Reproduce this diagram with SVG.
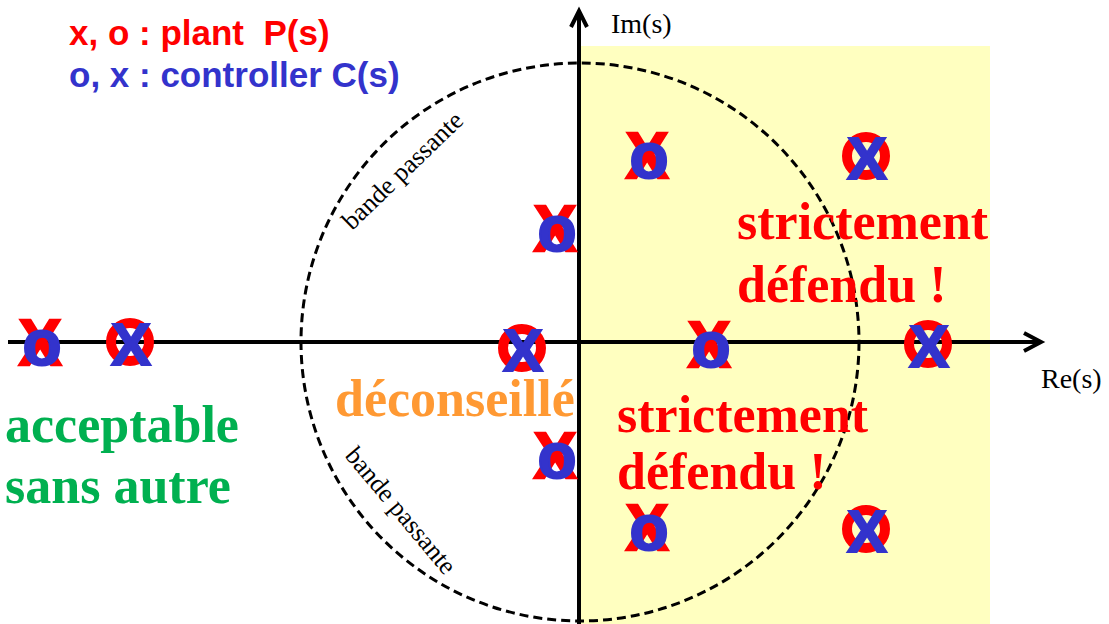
<svg xmlns="http://www.w3.org/2000/svg" width="1109" height="624" viewBox="0 0 1109 624">
<style>
.ax{stroke:#000;stroke-width:4;fill:none}
.circ{stroke:#000;stroke-width:3;fill:none;stroke-dasharray:9 5}
.rx{font-family:"Liberation Sans",Arial,sans-serif;font-weight:bold;font-size:64px;fill:#FF0000;stroke:#FF0000;stroke-width:2.5;text-anchor:middle}
.bo{font-family:"Liberation Sans",Arial,sans-serif;font-weight:bold;font-size:64px;fill:#3333CC;stroke:#3333CC;stroke-width:2;text-anchor:middle}
.bx{font-family:"Liberation Sans",Arial,sans-serif;font-weight:bold;font-size:60px;fill:#3333CC;stroke:#3333CC;stroke-width:2;text-anchor:middle}
.ro{fill:none;stroke:#FF0000;stroke-width:10}
.leg{font-family:"Liberation Sans",Arial,sans-serif;font-weight:bold;font-size:35px}
.big{font-family:"Liberation Serif","Times New Roman",serif;font-weight:bold;font-size:52px}
.lab{font-family:"Liberation Serif","Times New Roman",serif;font-size:28px;fill:#000}
.bp{font-family:"Liberation Serif","Times New Roman",serif;font-size:26px;fill:#000}
</style>
<rect width="1109" height="624" fill="#FFFFFF"/>
<rect id="zone-instable" x="579" y="46" width="411" height="578" fill="#FFFFC0"/>
<g id="connectors">
<circle class="circ" cx="580" cy="342" r="279"/>
<line class="ax" x1="8" y1="342" x2="1040" y2="342"/>
<polyline class="ax" points="1024,333 1041,342 1024,351"/>
<line class="ax" x1="579" y1="624" x2="579" y2="12"/>
<polyline class="ax" points="571,27 579,11 587,27"/>
</g>
<g id="legend">
<text class="leg" x="69" y="45" fill="#FF0000" xml:space="preserve">x, o : plant  P(s)</text>
<text class="leg" x="69" y="87" fill="#3333CC">o, x : controller C(s)</text>
</g>
<g id="axis-labels">
<text class="lab" x="611" y="33">Im(s)</text>
<text class="lab" x="1041" y="388">Re(s)</text>
</g>
<g id="bande-labels">
<text class="bp" transform="translate(352,231) rotate(-44)">bande passante</text>
<text class="bp" transform="translate(344,456) rotate(50)">bande passante</text>
</g>
<g id="region-labels">
<text class="big" x="737" y="239" fill="#FF0000">strictement</text>
<text class="big" x="737" y="302" fill="#FF0000">défendu !</text>
<text class="big" x="617" y="432" fill="#FF0000">strictement</text>
<text class="big" x="617" y="489" fill="#FF0000">défendu !</text>
<text class="big" x="335" y="416" fill="#FF9933">déconseillé</text>
<text class="big" x="5" y="442" fill="#00B050">acceptable</text>
<text class="big" x="5" y="503" fill="#00B050">sans autre</text>
</g>
<g id="pz1" transform="translate(40,342)"><text class="rx" x="0" y="23">X</text><text class="bo" x="2" y="23">o</text></g>
<g id="pz2" transform="translate(130,342)"><circle class="ro" cx="0" cy="0" r="19"/><text class="bx" x="1" y="23">X</text></g>
<g id="pz3" transform="translate(522,348)"><circle class="ro" cx="0" cy="0" r="19"/><text class="bx" x="1" y="23">X</text></g>
<g id="pz4" transform="translate(555,228)"><text class="rx" x="0" y="23">X</text><text class="bo" x="2" y="23">o</text></g>
<g id="pz5" transform="translate(555,455)"><text class="rx" x="0" y="23">X</text><text class="bo" x="2" y="23">o</text></g>
<g id="pz6" transform="translate(647,155)"><text class="rx" x="0" y="23">X</text><text class="bo" x="2" y="23">o</text></g>
<g id="pz7" transform="translate(647,527)"><text class="rx" x="0" y="23">X</text><text class="bo" x="2" y="23">o</text></g>
<g id="pz8" transform="translate(709,344)"><text class="rx" x="0" y="23">X</text><text class="bo" x="2" y="23">o</text></g>
<g id="pz9" transform="translate(866,156)"><circle class="ro" cx="0" cy="0" r="19"/><text class="bx" x="1" y="23">X</text></g>
<g id="pz10" transform="translate(866,529)"><circle class="ro" cx="0" cy="0" r="19"/><text class="bx" x="1" y="23">X</text></g>
<g id="pz11" transform="translate(928,344)"><circle class="ro" cx="0" cy="0" r="19"/><text class="bx" x="1" y="23">X</text></g>
</svg>
